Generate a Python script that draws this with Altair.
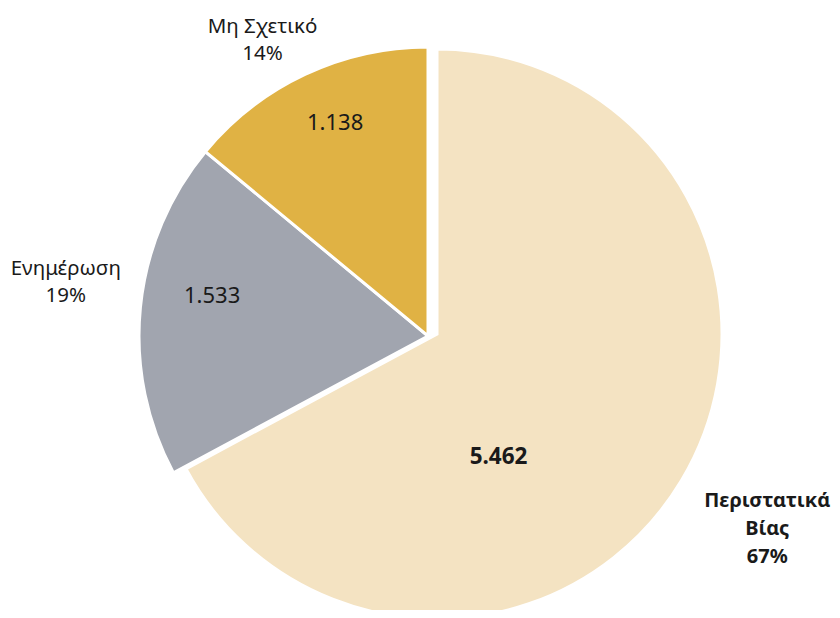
import altair as alt
import pandas as pd

categories = ["Περιστατικά Βίας", "Ενημέρωση", "Μη Σχετικό"]
values = [5462, 1533, 1138]
value_labels = ["5.462", "1.533", "1.138"]
outer_names = ["Περιστατικά\nΒίας", "Ενημέρωση", "Μη Σχετικό"]
colors = ["#F4E3C2", "#A1A5AF", "#E0B244"]

total = sum(values)
df = pd.DataFrame({
    "idx": list(range(len(categories))),
    "category": categories,
    "value": values,
    "vlabel": value_labels,
    "olabel": [f"{n}\n{round(v / total * 100)}%" for n, v in zip(outer_names, values)],
})

W, H = 824, 602
C_OTHER = (420, 328)
C_BIG = (429, 326)
R_OTHER = 289
R_BIG = 285
FONT = "Noto Sans"

base = alt.Chart(df).transform_joinaggregate(
    total="sum(value)"
).transform_window(
    cum="sum(value)", sort=[alt.SortField("idx")], frame=[None, 0]
).transform_calculate(
    start="(datum.cum - datum.value) / datum.total * 2 * PI",
    end="datum.cum / datum.total * 2 * PI",
    mid="(datum.cum - datum.value / 2) / datum.total * 2 * PI",
)

color = alt.Color("category:N", scale=alt.Scale(domain=categories, range=colors), legend=None)

arcs_other = base.transform_filter("datum.idx != 0").mark_arc(
    stroke="white", strokeWidth=3
).encode(
    theta=alt.Theta("start:Q", scale=None),
    theta2="end:Q",
    radius=alt.value(R_OTHER),
    color=color,
    x=alt.value(C_OTHER[0]),
    y=alt.value(C_OTHER[1]),
)

arcs_big = base.transform_filter("datum.idx == 0").mark_arc(
    stroke="white", strokeWidth=3
).encode(
    theta=alt.Theta("start:Q", scale=None),
    theta2="end:Q",
    radius=alt.value(R_BIG),
    color=color,
    x=alt.value(C_BIG[0]),
    y=alt.value(C_BIG[1]),
)


def label(idx, field, r, dx, dy, center, size, bold=False, lh=27):
    return base.transform_filter(f"datum.idx == {idx}").mark_text(
        font=FONT, fontSize=size, fontWeight="bold" if bold else "normal",
        color="#1a1a1a", align="center", baseline="middle",
        lineBreak="\n", lineHeight=lh, dx=dx, dy=dy,
    ).encode(
        theta=alt.Theta("mid:Q", scale=None),
        radius=alt.value(r),
        text=f"{field}:N",
        x=alt.value(center[0]),
        y=alt.value(center[1]),
    )


layers = [
    arcs_other,
    arcs_big,
    label(0, "vlabel", 137, -56, 53, C_BIG, 22.5, bold=True),
    label(1, "vlabel", 220, 3, -18, C_OTHER, 22),
    label(2, "vlabel", 230, 5, -5, C_OTHER, 22),
    label(0, "olabel", 386, -1, -31, C_BIG, 20, bold=True, lh=28),
    label(1, "olabel", 365, 1, -31, C_OTHER, 20.5),
    label(2, "olabel", 330, -25, -10, C_OTHER, 20.5),
]

chart = alt.layer(*layers).properties(
    width=W, height=H, autosize=alt.AutoSizeParams(type="none"), padding=0
).configure_view(stroke=None)

chart.save("out.html", embed_options={"renderer": "svg", "actions": False})
